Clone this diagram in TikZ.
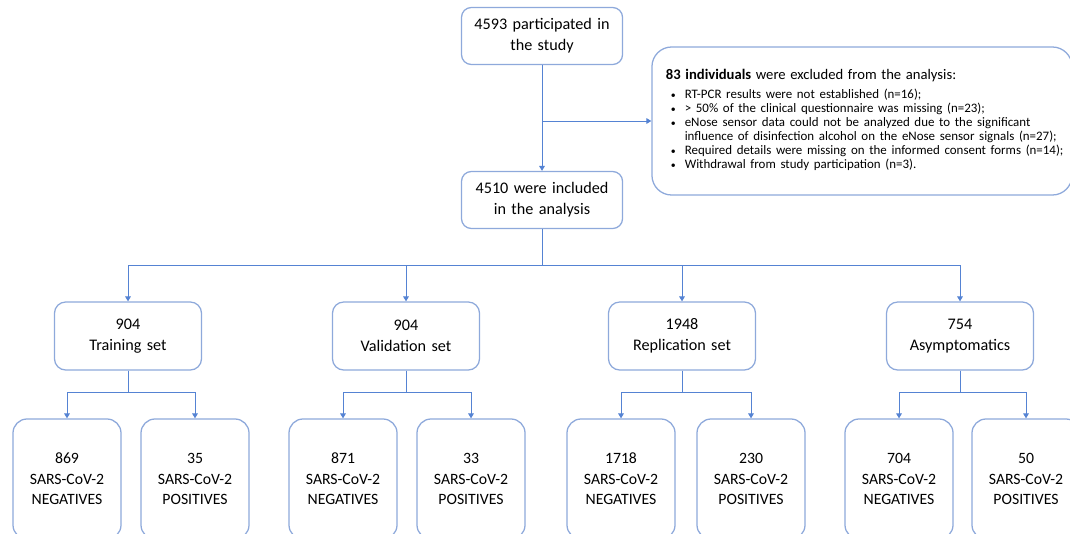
\documentclass[tikz,border=0pt]{standalone}
\usepackage{fontspec}
\setmainfont{Carlito}
\usetikzlibrary{arrows.meta}
\definecolor{linkblue}{HTML}{5583D3}
\definecolor{edgeblue}{HTML}{8EA9DB}
\begin{document}
\begin{tikzpicture}[x=0.025cm,y=-0.025cm,
block/.style ={rectangle, draw=edgeblue, line width=0.9pt, fill=white,
  text width=4.025cm, inner xsep=0pt, align=center, rounded corners=7pt,
  minimum height=1.425cm, font=\fontsize{11.5}{15}\selectfont
},
subset/.style ={rectangle, draw=edgeblue, line width=0.9pt, fill=white,
  text width=3.675cm, inner xsep=0pt, align=center, rounded corners=8pt,
  minimum height=1.7cm, font=\fontsize{11.5}{15}\selectfont
},
leaf/.style ={rectangle, draw=edgeblue, line width=0.9pt, fill=white,
  text width=2.7cm, inner xsep=0pt, align=center, rounded corners=10pt,
  minimum height=3cm, font=\fontsize{11.2}{14.5}\selectfont
},
note/.style ={rectangle, draw=edgeblue, line width=0.9pt, fill=white,
  text width=9.8cm, inner xsep=0.35cm, align=left, rounded corners=14pt,
  minimum height=3.7cm
},
link/.style ={draw=linkblue, line width=0.7pt, -{Triangle[length=3.5pt,width=4pt]}}]
\clip (0,0) rectangle (1070,533);
\node (top) at (542,36) [block] {4593 participated in\\the study};
\node (incl) at (542,200) [block] {4510 were included\\in the analysis};
\node (excl) at (862,121) [note] {\fontsize{10.4}{12}\selectfont\textbf{83 individuals} were excluded from the analysis:\\[4pt]
\fontsize{9.2}{10}\selectfont
\begin{tabular}{@{\hspace{1.2mm}}p{3.5mm}@{}l@{}}
{\scriptsize\textbullet} & RT-PCR results were not established (n=16);\\
{\scriptsize\textbullet} & > 50\% of the clinical questionnaire was missing (n=23);\\
{\scriptsize\textbullet} & eNose sensor data could not be analyzed due to the significant\\
 & influence of disinfection alcohol on the eNose sensor signals (n=27);\\
{\scriptsize\textbullet} & Required details were missing on the informed consent forms (n=14);\\
{\scriptsize\textbullet} & Withdrawal from study participation (n=3).
\end{tabular}};
\node (train) at (128,336) [subset] {904\\Training set};
\node (valid) at (406,336) [subset] {904\\Validation set};
\node (repl) at (682,336) [subset] {1948\\Replication set};
\node (asym) at (960,336) [subset] {754\\Asymptomatics};
\node (train-neg) at (67,479) [leaf] {869\\SARS-CoV-2\\NEGATIVES};
\node (train-pos) at (195,479) [leaf] {35\\SARS-CoV-2\\POSITIVES};
\node (valid-neg) at (343,479) [leaf] {871\\SARS-CoV-2\\NEGATIVES};
\node (valid-pos) at (471,479) [leaf] {33\\SARS-CoV-2\\POSITIVES};
\node (repl-neg) at (621,479) [leaf] {1718\\SARS-CoV-2\\NEGATIVES};
\node (repl-pos) at (751,479) [leaf] {230\\SARS-CoV-2\\POSITIVES};
\node (asym-neg) at (899,479) [leaf] {704\\SARS-CoV-2\\NEGATIVES};
\node (asym-pos) at (1026,479) [leaf] {50\\SARS-CoV-2\\POSITIVES};
\coordinate (bus) at (542,265);
\draw[link] (top) -- (incl);
\draw[link] (top.south |- excl.west) -- (excl.west);
\draw[draw=linkblue, line width=0.7pt] (incl) -- (bus);
\foreach \m in {train,valid,repl,asym} {
  \draw[link] (bus) -| (\m.north);
  \draw[link] (\m.south) -- ++(0,22) -| (\m-neg.north);
  \draw[link] (\m.south) -- ++(0,22) -| (\m-pos.north);
}
\end{tikzpicture}
\end{document}
